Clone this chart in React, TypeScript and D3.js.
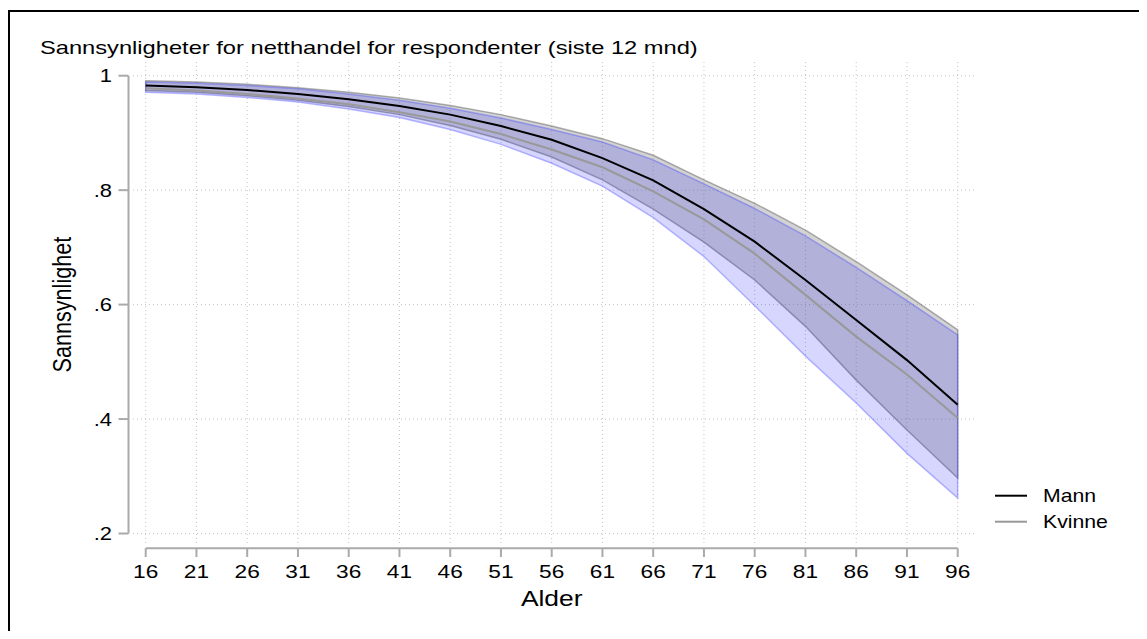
import React from "react";
import * as d3 from "d3";

const ages = [16, 21, 26, 31, 36, 41, 46, 51, 56, 61, 66, 71, 76, 81, 86, 91, 96];
const mann = [0.983, 0.980, 0.975, 0.968, 0.959, 0.947, 0.932, 0.912, 0.888, 0.856, 0.817, 0.767, 0.710, 0.643, 0.573, 0.503, 0.425];
const mannUpper = [0.991, 0.989, 0.985, 0.979, 0.971, 0.961, 0.948, 0.932, 0.912, 0.890, 0.861, 0.818, 0.777, 0.730, 0.675, 0.617, 0.556];
const mannLower = [0.974, 0.971, 0.965, 0.957, 0.946, 0.932, 0.913, 0.889, 0.858, 0.818, 0.767, 0.709, 0.643, 0.562, 0.468, 0.381, 0.297];
const kvinne = [0.978, 0.974, 0.968, 0.960, 0.950, 0.936, 0.920, 0.898, 0.871, 0.840, 0.798, 0.749, 0.689, 0.617, 0.544, 0.478, 0.402];
const kvinneUpper = [0.989, 0.987, 0.983, 0.977, 0.968, 0.957, 0.943, 0.926, 0.906, 0.884, 0.853, 0.811, 0.768, 0.720, 0.665, 0.607, 0.547];
const kvinneLower = [0.971, 0.968, 0.962, 0.954, 0.942, 0.927, 0.906, 0.880, 0.847, 0.807, 0.752, 0.684, 0.598, 0.510, 0.428, 0.340, 0.262];
const yTicks = [1, 0.8, 0.6, 0.4, 0.2];
const yTickLabels = ["1", ".8", ".6", ".4", ".2"];
const title = "Sannsynligheter for netthandel for respondenter (siste 12 mnd)";
const xTitle = "Alder";
const yTitle = "Sannsynlighet";
const legendItems = [
  { label: "Mann", color: "#000000" },
  { label: "Kvinne", color: "#999999" },
];

const FONT = "'Liberation Sans', Arial, Helvetica, sans-serif";

function SText({ x, y, sx, anchor, size, children }: any) {
  return (
    <text transform={`translate(${x},${y}) scale(${sx},1)`} textAnchor={anchor} fontSize={size} fill="#000">
      {children}
    </text>
  );
}

export default function App() {
  const x = d3.scaleLinear().domain([16, 96]).range([145.7, 957.7]);
  const y = d3.scaleLinear().domain([0.2, 1]).range([533.5, 75.7]);

  const area = (lo: number[], hi: number[]) =>
    d3
      .area<number>()
      .x((_, i) => x(ages[i]))
      .y0((_, i) => y(lo[i]))
      .y1((_, i) => y(hi[i]))(ages) || "";
  const line = (vals: number[]) =>
    d3
      .line<number>()
      .x((_, i) => x(ages[i]))
      .y((_, i) => y(vals[i]))(ages) || "";

  return (
    <svg width={1139} height={623} style={{ display: "block" }} fontFamily={FONT}>
      <g transform="translate(-8,-8)">
        <rect x={0} y={0} width={1200} height={700} fill="#ffffff" />
        <rect x={9} y={11} width={1137} height={700} fill="none" stroke="#000" strokeWidth={2} />

        {/* grid */}
        {yTicks.map((t) => (
          <line key={"gy" + t} x1={133} x2={976} y1={y(t)} y2={y(t)} stroke="#c4c4c4" strokeWidth={1} strokeDasharray="1 3" />
        ))}
        {ages.map((a) => (
          <line key={"gx" + a} x1={x(a)} x2={x(a)} y1={62} y2={544} stroke="#c4c4c4" strokeWidth={1} strokeDasharray="1 3" />
        ))}

        {/* bands */}
        <path d={area(mannLower, mannUpper)} fill="rgba(128,128,128,0.35)" stroke="rgba(110,110,110,0.55)" strokeWidth={1.5} />
        <path d={area(kvinneLower, kvinneUpper)} fill="rgba(0,0,255,0.16)" stroke="rgba(60,60,255,0.35)" strokeWidth={1.5} />

        {/* lines */}
        <path d={line(kvinne)} fill="none" stroke="#999999" strokeWidth={2} />
        <path d={line(mann)} fill="none" stroke="#000000" strokeWidth={2} />

        {/* y axis */}
        <line x1={128.5} x2={128.5} y1={y(1)} y2={y(0.2)} stroke="#aaaaaa" strokeWidth={2} />
        {yTicks.map((t, i) => (
          <g key={"yt" + t}>
            <line x1={118.5} x2={128.5} y1={y(t)} y2={y(t)} stroke="#aaaaaa" strokeWidth={2} />
            <SText x={112} y={y(t) + 6.5} sx={1.22} anchor="end" size={18}>
              {yTickLabels[i]}
            </SText>
          </g>
        ))}

        {/* x axis */}
        <line x1={x(16)} x2={x(96)} y1={548.3} y2={548.3} stroke="#aaaaaa" strokeWidth={2} />
        {ages.map((a) => (
          <g key={"xt" + a}>
            <line x1={x(a)} x2={x(a)} y1={548.3} y2={557} stroke="#aaaaaa" strokeWidth={2} />
            <SText x={x(a)} y={578} sx={1.26} anchor="middle" size={18}>
              {a}
            </SText>
          </g>
        ))}

        <SText x={(x(16) + x(96)) / 2} y={606} sx={1.2} anchor="middle" size={22}>
          {xTitle}
        </SText>
        <text transform={`translate(71,${(y(1) + y(0.2)) / 2}) rotate(-90) scale(1.03,1.2)`} textAnchor="middle" fontSize={21} fill="#000">
          {yTitle}
        </text>
        <SText x={40} y={54} sx={1.28} anchor="start" size={18.5}>
          {title}
        </SText>

        {/* legend */}
        {legendItems.map((it, i) => (
          <g key={it.label}>
            <line x1={995} x2={1027} y1={495.7 + i * 26} y2={495.7 + i * 26} stroke={it.color} strokeWidth={2} />
            <SText x={1043} y={502 + i * 26} sx={1.18} anchor="start" size={18}>
              {it.label}
            </SText>
          </g>
        ))}
      </g>
    </svg>
  );
}
